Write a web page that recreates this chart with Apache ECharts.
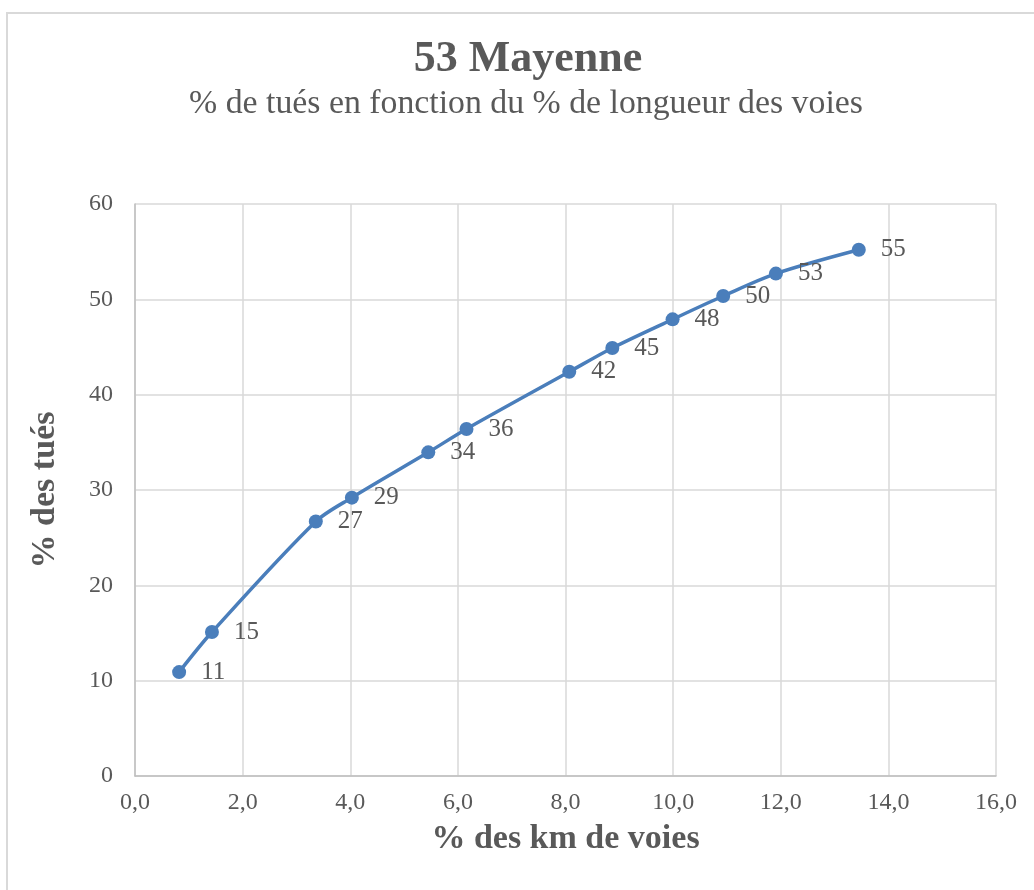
<!DOCTYPE html>
<html>
<head>
<meta charset="utf-8">
<script src="https://cdn.jsdelivr.net/npm/echarts@6/dist/echarts.min.js"></script>
<style>
html,body{margin:0;padding:0;background:#fff;}
#chart{width:1034px;height:890px;}
</style>
</head>
<body>
<div id="chart"></div>
<script>
const titleText = '53 Mayenne';
const subtitleText = '% de tués en fonction du % de longueur des voies';
const xAxisName = '% des km de voies';
const yAxisName = '% des tués';
const xValues = [0.82, 1.43, 3.36, 4.03, 5.45, 6.16, 8.07, 8.87, 9.99, 10.93, 11.91, 13.45];
const yValues = [10.9, 15.1, 26.7, 29.2, 33.95, 36.4, 42.4, 44.9, 47.9, 50.35, 52.7, 55.2];
const pointLabels = ['11', '15', '27', '29', '34', '36', '42', '45', '48', '50', '53', '55'];

const FONT = '"Liberation Serif", "Times New Roman", serif';
const TXT = '#595959';

const chart = echarts.init(document.getElementById('chart'), null, {renderer: 'canvas'});
chart.setOption({
  backgroundColor: '#ffffff',
  animation: false,
  graphic: [
    {type: 'rect', shape: {x: 7, y: 13, width: 1200, height: 1000},
     style: {fill: 'none', stroke: '#d9d9d9', lineWidth: 2}, silent: true},
    {type: 'text', style: {x: 528, y: 60, text: titleText, fill: TXT,
     font: 'bold 44px ' + FONT, textAlign: 'center', textVerticalAlign: 'middle'}},
    {type: 'text', style: {x: 526, y: 104, text: subtitleText, fill: TXT,
     font: '33.8px ' + FONT, textAlign: 'center', textVerticalAlign: 'middle'}}
  ],
  grid: {left: 135, top: 204, width: 861, height: 572, containLabel: false},
  xAxis: {
    type: 'value', min: 0, max: 16, interval: 2,
    name: xAxisName, nameLocation: 'middle', nameGap: 46,
    nameTextStyle: {fontFamily: FONT, fontSize: 34, fontWeight: 'bold', color: TXT},
    axisLine: {show: true, lineStyle: {color: '#bfbfbf', width: 1.5}},
    axisTick: {show: false},
    axisLabel: {fontFamily: FONT, fontSize: 24, color: TXT, margin: 15,
      formatter: v => v.toFixed(1).replace('.', ',')},
    splitLine: {show: true, lineStyle: {color: '#d9d9d9', width: 1.5}}
  },
  yAxis: {
    type: 'value', min: 0, max: 60, interval: 10,
    name: yAxisName, nameLocation: 'middle', nameGap: 73, nameRotate: 90,
    nameTextStyle: {fontFamily: FONT, fontSize: 34, fontWeight: 'bold', color: TXT},
    axisLine: {show: true, lineStyle: {color: '#bfbfbf', width: 1.5}},
    axisTick: {show: false},
    axisLabel: {fontFamily: FONT, fontSize: 24, color: TXT, margin: 22},
    splitLine: {show: true, lineStyle: {color: '#d9d9d9', width: 1.5}}
  },
  series: [{
    type: 'line',
    data: xValues.map((x, i) => [x, yValues[i]]),
    smooth: 0.3,
    symbol: 'circle', symbolSize: 14,
    lineStyle: {color: '#4a7ebb', width: 3.5},
    itemStyle: {color: '#4a7ebb'},
    label: {show: true, position: 'right', distance: 15,
      fontFamily: FONT, fontSize: 25, color: TXT,
      formatter: p => pointLabels[p.dataIndex]}
  }]
});
</script>
</body>
</html>
